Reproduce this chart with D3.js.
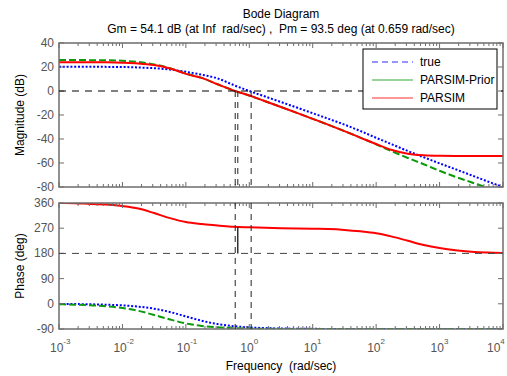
<!DOCTYPE html>
<html>
<head>
<meta charset="utf-8">
<script src="https://cdn.jsdelivr.net/npm/d3@7/dist/d3.min.js"></script>
<style>
  body { margin: 0; background: #fff; }
  svg { font-family: "Liberation Sans", Arial, sans-serif; }
  text { white-space: pre; }
</style>
</head>
<body>
<div id="chart"></div>
<script>
// frequencies (rad/sec), quarter-decade grid
const freq = [1e-3, 1.78e-3, 3.16e-3, 5.62e-3, 1e-2, 1.78e-2, 3.16e-2, 5.62e-2,
  0.1, 0.178, 0.316, 0.562, 1, 1.78, 3.16, 5.62, 10, 17.8, 31.6, 56.2,
  100, 178, 316, 562, 1000, 1780, 3160, 5620, 10000];

// magnitude (dB)
const magTrue  = [20.2, 20.2, 20.2, 20.1, 20.0, 19.6, 19.0, 17.9, 16.0, 13.6, 10.5, 5.0, 0.0, -4.6,
  -9.2, -13.8, -18.5, -23.2, -28.0, -33.3, -39.0, -44.5, -50.0, -55.2, -60.3, -65.2, -70.2, -75.2, -80.0];
const magPrior = [25.8, 25.8, 25.7, 25.6, 25.2, 24.2, 22.2, 19.0, 14.5, 10.9, 5.6, 0.5, -3.8, -8.5,
  -13.3, -18.2, -23.2, -28.2, -33.4, -38.8, -44.5, -50.3, -55.8, -61.0, -66.5, -71.5, -76.0, -80.6, -85.0];
const magParsim = [24.0, 24.0, 24.0, 23.9, 23.6, 23.0, 21.6, 18.8, 14.3, 10.9, 5.6, 0.5, -3.8, -8.5,
  -13.3, -18.2, -23.2, -28.2, -33.4, -38.8, -44.2, -49.2, -52.2, -53.6, -54.0, -54.1, -54.1, -54.1, -54.1];

// phase (deg)
const phTrue  = [-0.6, -1.0, -1.8, -3.2, -5.7, -10.1, -17.5, -29.4, -45.0, -60.6, -72.5, -79.9, -84.3, -86.8,
  -88.2, -89.0, -89.4, -89.7, -89.8, -89.9, -89.9, -90, -90, -90, -90, -90, -90, -90, -90];
const phPrior = [-1.5, -3.0, -5.5, -9.0, -15.0, -25.0, -40.0, -56.0, -70.0, -79.0, -84.0, -87.0, -88.5, -89.2,
  -89.6, -89.8, -90, -90, -90, -90, -90, -90, -90, -90, -90, -90, -90, -90, -90];
const phParsim = [360, 359.5, 356.5, 355, 349, 340, 324, 306, 292, 285, 280, 275, 273, 271.5,
  270, 269, 268, 267, 264, 259, 252, 240, 225, 210, 199, 191, 186, 183, 181.5];

const magTicks = [-80, -60, -40, -20, 0, 20, 40];
const phaseTicks = [-90, 0, 90, 180, 270, 360];
const decades = [-3, -2, -1, 0, 1, 2, 3, 4];

const seriesNames = ["true", "PARSIM-Prior", "PARSIM"];
const pmFreq = 0.659, pmPhase = 273.5;
const crossFreqs = [0.6, 1.07];

const W = 507, H = 376;
const left = 59, right = 503;
const magTop = 43, magBot = 187, phTop = 203, phBot = 329;
const axisColor = "#6e6e6e", labelColor = "#555";

const svg = d3.select("#chart").append("svg").attr("width", W).attr("height", H);

const x = d3.scaleLog().domain([1e-3, 1e4]).range([left, right]);
const yMag = d3.scaleLinear().domain([-80, 40]).range([magBot, magTop]);
const yPh = d3.scaleLinear().domain([-90, 360]).range([phBot, phTop]);

const styles = [
  { color: "#0000ff", dash: "2,1.8", width: 2 },
  { color: "#0a9a0a", dash: "7,3", width: 2 },
  { color: "#ff0000", dash: null, width: 2 }
];

function panel(id, y, top, bot, ticks, curves) {
  svg.append("clipPath").attr("id", id).append("rect")
    .attr("x", left).attr("y", top).attr("width", right - left).attr("height", bot - top);

  const g = svg.append("g");
  const line = d3.line().x((d, i) => x(freq[i])).y(d => y(d)).curve(d3.curveMonotoneX);

  curves.forEach((c, i) => {
    g.append("path").datum(c)
      .attr("clip-path", "url(#" + id + ")")
      .attr("fill", "none")
      .attr("stroke", styles[i].color)
      .attr("stroke-width", styles[i].width)
      .attr("stroke-dasharray", styles[i].dash)
      .attr("d", line);
  });

  // x ticks top and bottom (log minor ticks)
  x.ticks().forEach(t => {
    const major = Math.abs(Math.log10(t) - Math.round(Math.log10(t))) < 1e-6;
    const len = major ? 5 : 3;
    [[bot, -len], [top, len]].forEach(([yy, d]) => {
      g.append("line").attr("x1", x(t)).attr("x2", x(t)).attr("y1", yy).attr("y2", yy + d)
        .attr("stroke", axisColor).attr("stroke-width", 1);
    });
  });

  // y ticks left and right with labels
  ticks.forEach(t => {
    [[left, 5], [right, -5]].forEach(([xx, d]) => {
      g.append("line").attr("x1", xx).attr("x2", xx + d).attr("y1", y(t)).attr("y2", y(t))
        .attr("stroke", axisColor).attr("stroke-width", 1);
    });
    g.append("text").attr("x", left - 5).attr("y", y(t) + 4)
      .attr("text-anchor", "end").attr("font-size", 12).attr("fill", labelColor).text(t);
  });

  g.append("rect").attr("x", left).attr("y", top).attr("width", right - left).attr("height", bot - top)
    .attr("fill", "none").attr("stroke", axisColor).attr("stroke-width", 1.5);
  return g;
}

const gMag = panel("clipMag", yMag, magTop, magBot, magTicks, [magTrue, magPrior, magParsim]);
const gPh = panel("clipPh", yPh, phTop, phBot, phaseTicks, [phTrue, phPrior, phParsim]);

// margin reference lines
gMag.append("line").attr("x1", left).attr("x2", right).attr("y1", yMag(0)).attr("y2", yMag(0))
  .attr("stroke", "#000").attr("stroke-width", 1).attr("stroke-dasharray", "7,6");
gPh.append("line").attr("x1", left).attr("x2", right).attr("y1", yPh(180)).attr("y2", yPh(180))
  .attr("stroke", "#444").attr("stroke-width", 1).attr("stroke-dasharray", "7,6");

crossFreqs.concat([pmFreq]).forEach(f => {
  gMag.append("line").attr("x1", x(f)).attr("x2", x(f)).attr("y1", yMag(0)).attr("y2", magBot)
    .attr("stroke", "#222").attr("stroke-width", 1).attr("stroke-dasharray", "6,5");
});
crossFreqs.forEach(f => {
  gPh.append("line").attr("x1", x(f)).attr("x2", x(f)).attr("y1", phTop).attr("y2", phBot)
    .attr("stroke", "#222").attr("stroke-width", 1).attr("stroke-dasharray", "6,5");
});
gPh.append("line").attr("x1", x(pmFreq)).attr("x2", x(pmFreq)).attr("y1", yPh(pmPhase)).attr("y2", yPh(180))
  .attr("stroke", "#000").attr("stroke-width", 1.2);

// x tick labels (last one pulled in so it stays inside the window)
decades.forEach(d => {
  const px = Math.min(x(Math.pow(10, d)) - 9, W - 20);
  const t = svg.append("text").attr("x", px).attr("y", 352)
    .attr("font-size", 12).attr("fill", labelColor);
  t.append("tspan").text("10");
  t.append("tspan").attr("dy", -8).attr("font-size", 8).text(d);
});

// titles and axis labels
const cx = (left + right) / 2;
svg.append("text").attr("x", cx).attr("y", 18).attr("text-anchor", "middle")
  .attr("font-size", 12).text("Bode Diagram");
svg.append("text").attr("x", cx).attr("y", 33).attr("text-anchor", "middle")
  .attr("font-size", 12).text("Gm = 54.1 dB (at Inf  rad/sec) ,  Pm = 93.5 deg (at 0.659 rad/sec)");
svg.append("text").attr("x", cx).attr("y", 370).attr("text-anchor", "middle")
  .attr("font-size", 12).text("Frequency  (rad/sec)");
svg.append("text").attr("transform", "translate(24," + (magTop + magBot) / 2 + ") rotate(-90)")
  .attr("text-anchor", "middle").attr("font-size", 12).text("Magnitude (dB)");
svg.append("text").attr("transform", "translate(24," + (phTop + phBot) / 2 + ") rotate(-90)")
  .attr("text-anchor", "middle").attr("font-size", 12).text("Phase (deg)");

// legend
const lg = svg.append("g");
lg.append("rect").attr("x", 363).attr("y", 49).attr("width", 134).attr("height", 60)
  .attr("fill", "#fff").attr("stroke", "#000").attr("stroke-width", 1);
const legendDash = ["6,4", null, null];
seriesNames.forEach((name, i) => {
  const yy = 62 + i * 18;
  lg.append("line").attr("x1", 372).attr("x2", 413).attr("y1", yy).attr("y2", yy)
    .attr("stroke", styles[i].color).attr("stroke-opacity", 0.55).attr("stroke-width", 1.5)
    .attr("stroke-dasharray", legendDash[i]);
  lg.append("text").attr("x", 420).attr("y", yy + 4).attr("font-size", 12).text(name);
});
</script>
</body>
</html>
